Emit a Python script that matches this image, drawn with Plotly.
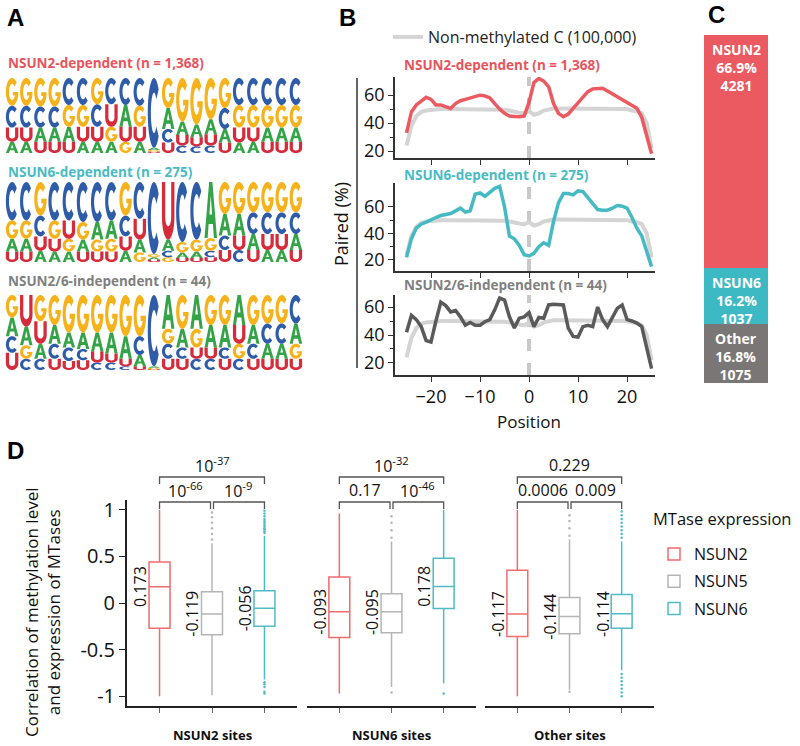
import numpy as np
import plotly.graph_objects as go

W, H = 800, 746
FONT = "Open Sans"

# ---------------- data ----------------
# Panel A: sequence logos (letters listed top -> bottom, with frequencies)
nsun2_logo_letters = ["GCUA", "GCUA", "GCAU", "GCAU", "CGAU", "CGUA", "GCUA", "CUGA", "CAUG", "CGUA",
                      "CAGU",
                      "GACU", "GAUC", "GAUC", "GAUC", "GCAU", "CGUA", "CGUA", "CGAU", "CGAU", "CGAU"]
nsun2_logo_freqs = [[.37, .29, .19, .15], [.37, .29, .19, .15], [.38, .28, .19, .15], [.38, .28, .19, .15],
                    [.36, .29, .2, .15], [.36, .29, .2, .15], [.35, .3, .2, .15], [.35, .3, .2, .15],
                    [.36, .29, .2, .15], [.37, .28, .2, .15],
                    [.93, .03, .02, .02],
                    [.4, .28, .18, .14], [.58, .18, .14, .1], [.62, .17, .12, .09], [.55, .2, .15, .1],
                    [.4, .28, .18, .14], [.36, .3, .2, .14], [.36, .3, .19, .15], [.36, .3, .19, .15],
                    [.36, .3, .19, .15], [.36, .3, .19, .15]]

nsun6_logo_letters = ["CGAU", "CGAU", "GCUA", "CGUA", "CUGA", "CGAU", "CAGU", "CAGU", "GCUA", "CUAG",
                      "CGAU",
                      "UACG", "CGAU", "CGAU", "AGCU", "GACU", "GAUC", "GCAU", "GCUA", "GCUA", "GCAU"]
nsun6_logo_freqs = [[.48, .23, .16, .13], [.48, .23, .16, .13], [.42, .26, .18, .14], [.48, .23, .16, .13],
                    [.48, .23, .16, .13], [.5, .22, .15, .13], [.5, .22, .15, .13], [.48, .23, .16, .13],
                    [.42, .26, .18, .14], [.46, .26, .16, .12],
                    [.9, .04, .03, .03],
                    [.72, .14, .08, .06], [.75, .13, .07, .05], [.72, .15, .08, .05], [.7, .16, .08, .06],
                    [.4, .27, .18, .15], [.4, .27, .18, .15], [.38, .27, .2, .15], [.38, .27, .2, .15],
                    [.38, .27, .2, .15], [.38, .27, .2, .15]]

indep_logo_letters = ["GACU", "UAGC", "GUAC", "GACU", "GACU", "GACU", "GAUC", "GAUC", "GAUC", "GCAU",
                      "CAGU",
                      "AGCU", "GACU", "AGUC", "GAUC", "GACU", "AUGC", "GACU", "GCAU", "GCAU", "CAGU"]
indep_logo_freqs = [[.3, .25, .22, .23], [.42, .25, .18, .15], [.35, .3, .2, .15], [.4, .25, .2, .15],
                    [.5, .2, .18, .12], [.5, .22, .15, .13], [.5, .25, .15, .1], [.5, .28, .12, .1],
                    [.55, .3, .1, .05], [.55, .25, .15, .05],
                    [.95, .02, .02, .01],
                    [.45, .2, .2, .15], [.45, .25, .15, .15], [.45, .25, .15, .15], [.4, .3, .15, .15],
                    [.4, .3, .15, .15], [.4, .25, .2, .15], [.4, .25, .2, .15], [.38, .27, .2, .15],
                    [.38, .27, .2, .15], [.38, .27, .2, .15]]

logo_titles = ["NSUN2-dependent (n = 1,368)", "NSUN6-dependent (n = 275)", "NSUN2/6-independent (n = 44)"]

# Panel B: paired (%) by position
positions = list(range(-25, 26))
nonmethylated_paired = [24, 38, 45, 48, 49, 49.5, 50, 50, 50, 50, 50, 50, 50, 50, 50, 50, 50, 50, 50, 49.5,
                        49.5, 49, 48, 47.5, 47,
                        48.5,
                        46, 47, 49, 50, 50.5, 50.5, 50.5, 50.5, 50.5, 50.5, 50.5, 50.5, 50.5, 50.5, 50.5,
                        50, 50, 50, 50, 50, 49, 48.5, 47, 40, 22]
nsun2_paired = [33, 48, 53, 56, 58.5, 57, 53, 53, 52, 50.5, 54, 56, 57, 58, 59, 60, 59.5, 58, 54, 50,
                47, 45, 44.8, 44.5, 45,
                55,
                69, 72, 70, 66, 54, 47, 44.5, 46.5, 50.5, 54.5, 59, 62.5, 64.5, 65, 65,
                63, 61, 58.6, 57, 55, 53, 50.7, 44, 30, 18]
nsun6_paired = [22, 36, 44, 47, 48.5, 50.5, 52, 53.5, 54.5, 55, 57, 59, 56, 57, 69.5, 70.5, 68, 71, 74, 75.5,
                60, 38, 36, 31, 24,
                23,
                25, 30, 33, 31, 49, 63, 70, 70, 69, 72, 71.5, 67, 62, 58, 57.5,
                57.5, 59, 61, 60.5, 59, 52, 44, 38, 26, 15]
indep_paired = [42, 54, 51, 46, 36, 35, 50, 63.5, 61, 56.5, 57.5, 53, 47, 49, 47, 47, 49.5, 51, 58, 66.5,
                65, 53, 45, 52, 53,
                56,
                46, 52.5, 52, 61.5, 62, 62, 61.5, 45, 39, 38.5, 46, 47, 46, 60, 51,
                46, 53, 59, 61.5, 51, 50, 48.5, 46, 32, 16]

# Panel C: stacked bar
bar_labels = ["NSUN2", "NSUN6", "Other"]
bar_counts = [4281, 1037, 1075]
bar_percents = ["66.9%", "16.2%", "16.8%"]

# Panel D: box plots (rows: site groups, cols: MTases)
site_groups = ["NSUN2 sites", "NSUN6 sites", "Other sites"]
mtases = ["NSUN2", "NSUN5", "NSUN6"]
box_q1 = [[-0.27, -0.34, -0.25], [-0.37, -0.32, -0.06], [-0.36, -0.33, -0.27]]
box_median = [[0.173, -0.119, -0.056], [-0.093, -0.095, 0.178], [-0.117, -0.144, -0.114]]
box_q3 = [[0.44, 0.12, 0.13], [0.28, 0.10, 0.48], [0.35, 0.06, 0.09]]
box_lower = [[-1.0, -0.99, -0.82], [-0.97, -0.9, -0.86], [-1.0, -0.93, -0.72]]
box_upper = [[1.0, 0.64, 0.72], [0.96, 0.66, 1.0], [1.0, 0.68, 0.66]]
box_outliers = [
    [[], [0.68, 0.74, 0.8, 0.86, 0.92, 0.97],
     [0.75, 0.77, 0.79, 0.8, 0.82, 0.84, 0.86, 0.88, 0.9, 0.93, 0.96, 0.99, -0.85, -0.87, -0.9, -0.95, -0.97]],
    [[], [0.7, 0.78, 0.86, 0.93, -0.96], [-0.97]],
    [[], [0.72, 0.8, 0.88, 0.94, -0.95],
     [0.7, 0.74, 0.78, 0.82, 0.86, 0.9, 0.94, 0.98, -0.76, -0.8, -0.84, -0.88, -0.92, -0.96, -1.0]],
]
box_labels = [["0.173", "-0.119", "-0.056"], ["-0.093", "-0.095", "0.178"], ["-0.117", "-0.144", "-0.114"]]
p_top = ["10<sup>-37</sup>", "10<sup>-32</sup>", "0.229"]
p_left = ["10<sup>-66</sup>", "0.17", "0.0006"]
p_right = ["10<sup>-9</sup>", "10<sup>-46</sup>", "0.009"]

# ---------------- styling ----------------
RED, TEAL, DGRAY, LGRAY = "#EC5A61", "#46BAC3", "#5A5A5A", "#D4D4D4"
TITLE_COLORS = ["#E8545C", "#48BBC4", "#808080"]
BAR_COLORS = ["#EA5A60", "#3DB9C4", "#7B7676"]
BOX_COLORS = ["#EF6B6E", "#B5B5B5", "#4FBCC5"]
LETTER_COLORS = {"A": "#35A347", "C": "#2E5CA8", "G": "#F5B21A", "U": "#D62B3A"}
AXC = "#333333"


def px(x):
    return x / W


def py(y):
    return 1 - y / H


def akey(n, a):
    return f"{a}axis" if n == 1 else f"{a}axis{n}"


def aref(n, a):
    return a if n == 1 else f"{a}{n}"


def note(text, x, y, size, color="#111", xanchor="center", yanchor="middle", **kw):
    return dict(text=text, x=px(x), y=py(y), xref="paper", yref="paper", xanchor=xanchor,
                yanchor=yanchor, showarrow=False, font=dict(size=size, color=color), **kw)


# glyph outlines in a unit box
def arc(cx, cy, rx, ry, a0, a1, n=36):
    t = np.radians(np.linspace(a0, a1, n))
    return list(zip(cx + rx * np.cos(t), cy + ry * np.sin(t)))


GLYPHS = {
    "C": [arc(.5, .5, .5, .5, 42, 318) + arc(.5, .5, .25, .29, 318, 42)],
    "G": [arc(.5, .5, .5, .5, 42, 352) + [(0.99, 0.5), (0.56, 0.5), (0.56, 0.37), (0.75, 0.37)]
          + arc(.5, .5, .25, .29, 335, 42)],
    "A": [[(0, 0), (0.37, 1), (0.63, 1), (1, 0), (0.75, 0), (0.67, 0.25), (0.33, 0.25), (0.25, 0)],
          [(0.39, 0.42), (0.61, 0.42), (0.5, 0.76)]],
    "U": [[(0, 1), (0, 0.4)] + arc(.5, .4, .5, .4, 180, 360) + [(1, 1), (0.74, 1), (0.74, 0.4)]
          + arc(.5, .4, .24, .17, 360, 180) + [(0.26, 1)]],
}


def glyph_path(letter, x0, x1, y0, y1):
    parts = []
    for poly in GLYPHS[letter]:
        pts = [f"{x0 + u * (x1 - x0):.4f},{y0 + v * (y1 - y0):.4f}" for u, v in poly]
        parts.append("M" + " L".join(pts) + " Z")
    return " ".join(parts)


fig = go.Figure()
layout = dict(width=W, height=H, margin=dict(l=0, r=0, t=0, b=0, autoexpand=False),
              paper_bgcolor="white", plot_bgcolor="white",
              font=dict(family=FONT, color="#222"), barmode="stack", bargap=0,
              boxmode="overlay", showlegend=True)
shapes, annotations = [], []

# ---------------- Panel A: logos ----------------
logo_rows = [(78, 153), (182, 262), (295, 370)]
logo_sets = [(nsun2_logo_letters, nsun2_logo_freqs), (nsun6_logo_letters, nsun6_logo_freqs),
             (indep_logo_letters, indep_logo_freqs)]
title_y = [63, 172, 281]
for i, ((top, bot), (letters, freqs)) in enumerate(zip(logo_rows, logo_sets)):
    n = i + 1
    layout[akey(n, "x")] = dict(domain=[px(5), px(303)], range=[0.5, 21.5], visible=False,
                                anchor=aref(n, "y"), fixedrange=True)
    layout[akey(n, "y")] = dict(domain=[py(bot), py(top)], range=[0, 1], visible=False,
                                anchor=aref(n, "x"), fixedrange=True)
    fig.add_trace(go.Scatter(x=[None], y=[None], xaxis=aref(n, "x"), yaxis=aref(n, "y"),
                             showlegend=False, hoverinfo="skip"))
    for col, (lts, fr) in enumerate(zip(letters, freqs), start=1):
        total = sum(fr)
        base = 0.0
        for letter, f in reversed(list(zip(lts, fr))):
            h = f / total
            shapes.append(dict(type="path", path=glyph_path(letter, col - 0.44, col + 0.44, base, base + h),
                               xref=aref(n, "x"), yref=aref(n, "y"), fillcolor=LETTER_COLORS[letter],
                               line=dict(width=0), layer="above"))
            base += h
    annotations.append(note(f"<b>{logo_titles[i]}</b>", 6, title_y[i], 13.5, TITLE_COLORS[i], xanchor="left"))

# ---------------- Panel B: paired lines ----------------
b_rows = [(77, 158, [15, 73]), (183, 271, [11.7, 78]), (295, 375, [11.4, 68.6])]
b_series = [nsun2_paired, nsun6_paired, indep_paired]
b_colors = [RED, TEAL, DGRAY]
b_title_y = [65, 175, 285]
for i, (top, bot, yr) in enumerate(b_rows):
    n = 4 + i
    last = i == 2
    layout[akey(n, "x")] = dict(domain=[px(395), px(655)], range=[-27.35, 25.7], anchor=aref(n, "y"),
                                showline=True, linecolor=AXC, linewidth=1.5, showgrid=False, zeroline=False,
                                ticks="outside", ticklen=5, tickcolor=AXC, tickvals=[-20, -10, 0, 10, 20],
                                showticklabels=last, tickfont=dict(size=18, color="#111"), fixedrange=True)
    layout[akey(n, "y")] = dict(domain=[py(bot), py(top)], range=yr, anchor=aref(n, "x"),
                                showline=True, linecolor=AXC, linewidth=1.5, showgrid=False, zeroline=False,
                                ticks="outside", ticklen=5, tickcolor=AXC, tickvals=[20, 40, 60],
                                minor=dict(tickvals=[30, 50], ticklen=3, tickcolor=AXC, ticks="outside"),
                                tickfont=dict(size=18, color="#111"), fixedrange=True)
    fig.add_trace(go.Scatter(x=positions, y=nonmethylated_paired, mode="lines",
                             line=dict(color=LGRAY, width=4), xaxis=aref(n, "x"), yaxis=aref(n, "y"),
                             name="Non-methylated C (100,000)", legend="legend2", showlegend=(i == 0),
                             hoverinfo="skip"))
    fig.add_trace(go.Scatter(x=positions, y=b_series[i], mode="lines",
                             line=dict(color=b_colors[i], width=3.5), xaxis=aref(n, "x"), yaxis=aref(n, "y"),
                             showlegend=False, name=logo_titles[i]))
    shapes.append(dict(type="line", x0=0, x1=0, y0=0, y1=1, xref=aref(n, "x"), yref=f"{aref(n, 'y')} domain",
                       line=dict(color="#C8C8C8", width=4, dash="dash"), layer="below"))
    annotations.append(note(f"<b>{logo_titles[i]}</b>", 402, b_title_y[i], 13.5, TITLE_COLORS[i],
                            xanchor="left"))

shapes.append(dict(type="line", x0=px(357), x1=px(357), y0=py(78), y1=py(368), xref="paper", yref="paper",
                   line=dict(color=AXC, width=1.5)))
annotations.append(note("Paired (%)", 341, 224, 18, textangle=-90))
annotations.append(note("Position", 529, 421, 17))

# ---------------- Panel C: stacked bar ----------------
layout["xaxis7"] = dict(domain=[px(704), px(768)], range=[-0.5, 0.5], visible=False, anchor="y7",
                        fixedrange=True)
layout["yaxis7"] = dict(domain=[py(383), py(35)], range=[0, sum(bar_counts)], visible=False, anchor="x7",
                        fixedrange=True)
cum = 0
tops = {}
for j in [2, 1, 0]:
    fig.add_trace(go.Bar(x=[0], y=[bar_counts[j]], width=1, marker=dict(color=BAR_COLORS[j], line=dict(width=0)),
                         xaxis="x7", yaxis="y7", showlegend=False, name=bar_labels[j], hoverinfo="skip"))
    cum += bar_counts[j]
    tops[j] = cum
for j in range(3):
    annotations.append(dict(text=f"<b>{bar_labels[j]}<br>{bar_percents[j]}<br>{bar_counts[j]}</b>",
                            x=0, y=tops[j], xref="x7", yref="y7", xanchor="center", yanchor="top", yshift=-3,
                            showarrow=False, font=dict(size=14, color="white")))

# ---------------- Panel D: box plots ----------------
d_domains = [(127, 297), (307, 476), (485, 654)]
d_top, d_bot = 500, 706
d_yr = [-1.104, 1.104]
d_xr = [-0.62, 2.62]
for f, (xa, xb) in enumerate(d_domains):
    n = 8 + f
    layout[akey(n, "x")] = dict(domain=[px(xa), px(xb)], range=d_xr, type="category",
                                categoryorder="array", categoryarray=mtases, anchor=aref(n, "y"),
                                showline=True, linecolor="#222", linewidth=2, showgrid=False, zeroline=False,
                                ticks="outside", ticklen=5, tickcolor="#666", showticklabels=False,
                                fixedrange=True)
    layout[akey(n, "y")] = dict(domain=[py(d_bot), py(d_top)], range=d_yr, anchor=aref(n, "x"),
                                showline=(f == 0), linecolor="#222", linewidth=2, showgrid=False,
                                zeroline=False, ticks="outside" if f == 0 else "", ticklen=6,
                                tickcolor="#222", tickvals=[-1, -0.5, 0, 0.5, 1],
                                ticktext=["-1", "-0.5", "0", "0.5", "1"], showticklabels=(f == 0),
                                tickfont=dict(size=20, color="#111"), fixedrange=True)
    for m, mt in enumerate(mtases):
        fig.add_trace(go.Box(x=[mt], q1=[box_q1[f][m]], median=[box_median[f][m]], q3=[box_q3[f][m]],
                             lowerfence=[box_lower[f][m]], upperfence=[box_upper[f][m]],
                             name=mt, legendgroup=mt, showlegend=(f == 0), legend="legend",
                             line=dict(color=BOX_COLORS[m], width=1.5), fillcolor="white",
                             width=0.4, whiskerwidth=0, boxpoints=False,
                             xaxis=aref(n, "x"), yaxis=aref(n, "y")))
        if box_outliers[f][m]:
            fig.add_trace(go.Scatter(x=[mt] * len(box_outliers[f][m]), y=box_outliers[f][m], mode="markers",
                                     marker=dict(color=BOX_COLORS[m], size=2.5), showlegend=False,
                                     xaxis=aref(n, "x"), yaxis=aref(n, "y"), hoverinfo="skip"))
        annotations.append(dict(text=box_labels[f][m], x=m - 0.37, y=box_median[f][m],
                                xref=aref(n, "x"), yref=aref(n, "y"), textangle=-90, showarrow=False,
                                xanchor="center", yanchor="middle", font=dict(size=16, color="#111")))

    # significance brackets (pixel positions from the facet's axis range)
    def xcat(idx, xa=xa, xb=xb):
        return xa + (idx - d_xr[0]) / (d_xr[1] - d_xr[0]) * (xb - xa)

    def bracket(xl, xr, yline, ytick):
        return dict(type="path", xref="paper", yref="paper",
                    path=f"M{px(xl)},{py(ytick)} L{px(xl)},{py(yline)} L{px(xr)},{py(yline)} L{px(xr)},{py(ytick)}",
                    line=dict(color="#555", width=1.3))

    shapes.append(bracket(xcat(0), xcat(2), 477, 484))
    shapes.append(bracket(xcat(0), xcat(1) - 1.5, 502, 509))
    shapes.append(bracket(xcat(1) + 1.5, xcat(2), 502, 509))
    annotations.append(note(p_top[f], (xcat(0) + xcat(2)) / 2, 465, 16))
    annotations.append(note(p_left[f], (xcat(0) + xcat(1)) / 2, 490, 16))
    annotations.append(note(p_right[f], (xcat(1) + xcat(2)) / 2, 490, 16))
    annotations.append(note(f"<b>{site_groups[f]}</b>", (xa + xb) / 2, 735, 13))

annotations.append(note("Correlation of methylation level<br>and expression of MTases", 42, 612, 17,
                        textangle=-90))
annotations.append(note("MTase expression", 651, 518, 16.5, xanchor="left"))

# panel letters
for lab, (lx, ly) in zip("ABCD", [(15, 17), (347, 17), (716, 14), (15, 451)]):
    a = note(f"<b>{lab}</b>", lx, ly, 24, "black")
    a["font"]["family"] = "Liberation Sans"
    annotations.append(a)

layout["legend"] = dict(x=px(654), y=py(537), xanchor="left", yanchor="top", bgcolor="rgba(0,0,0,0)",
                        font=dict(size=16, color="#111"), tracegroupgap=3.5)
layout["legend2"] = dict(x=px(388), y=py(20), xanchor="left", yanchor="top", bgcolor="rgba(0,0,0,0)",
                         font=dict(size=16, color="#222"))
layout["shapes"] = shapes
layout["annotations"] = annotations
fig.update_layout(**layout)
fig.write_html("out.html", config={"displayModeBar": False},
               post_script="document.body.style.margin='0px';")
